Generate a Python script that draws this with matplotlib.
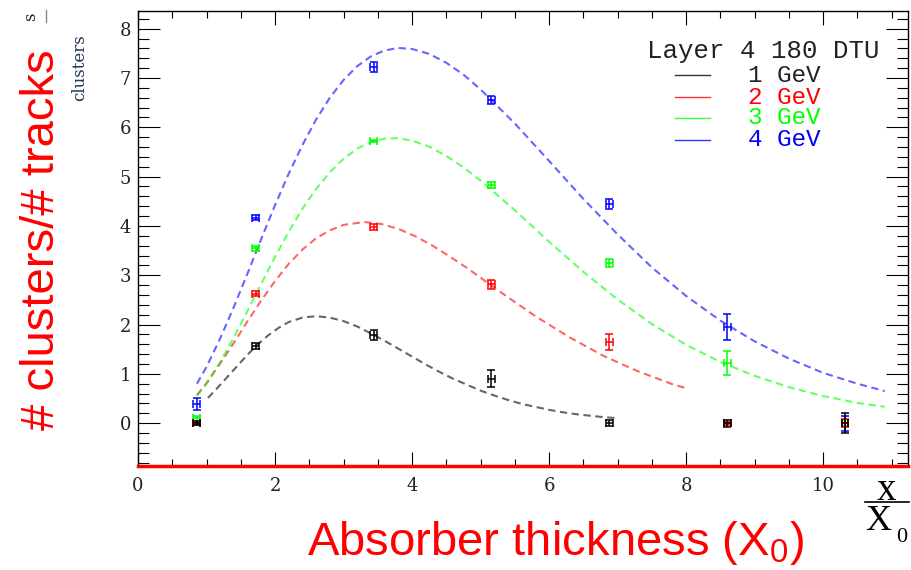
import matplotlib
matplotlib.use("Agg")
import matplotlib.pyplot as plt
from matplotlib.lines import Line2D

# measured points (absorber thickness in X0)
thickness = [0.86, 1.72, 3.44, 5.16, 6.88, 8.60, 10.32]
thickness_err = [0.05, 0.05, 0.05, 0.05, 0.05, 0.05, 0.05]

energies = ["1 GeV", "2 GeV", "3 GeV", "4 GeV"]
colors = ["#000000", "#ff0000", "#00ff00", "#0000ff"]

ratio_1gev = [0.0, 1.57, 1.78, 0.90, 0.0, 0.0, 0.0]
ratio_2gev = [0.0, 2.62, 3.98, 2.82, 1.65, 0.0, 0.0]
ratio_3gev = [0.10, 3.55, 5.72, 4.83, 3.25, 1.22, 0.0]
ratio_4gev = [0.38, 4.17, 7.22, 6.55, 4.45, 1.95, 0.0]

err_1gev = [0.04, 0.06, 0.10, 0.17, 0.06, 0.07, 0.20]
err_2gev = [0.03, 0.05, 0.06, 0.09, 0.16, 0.03, 0.08]
err_3gev = [0.05, 0.05, 0.02, 0.07, 0.08, 0.25, 0.06]
err_4gev = [0.12, 0.05, 0.10, 0.08, 0.10, 0.26, 0.15]

# fitted shower curves
fit_x_1gev = [1.02, 1.15, 1.3, 1.45, 1.6, 1.75, 1.9, 2.05, 2.2, 2.4, 2.6, 2.8, 3.0, 3.2, 3.4, 3.6, 3.8,
              4.0, 4.2, 4.4, 4.6, 4.8, 5.0, 5.2, 5.4, 5.6, 5.8, 6.0, 6.2, 6.4, 6.6, 6.8, 7.0]
fit_y_1gev = [0.51, 0.70, 0.93, 1.16, 1.39, 1.60, 1.78, 1.93, 2.05, 2.14, 2.17, 2.14, 2.07, 1.96, 1.82, 1.67, 1.51,
              1.35, 1.19, 1.04, 0.90, 0.78, 0.66, 0.56, 0.47, 0.39, 0.33, 0.27, 0.22, 0.18, 0.15, 0.12, 0.10]

fit_x_2gev = [0.86, 1.0, 1.2, 1.4, 1.6, 1.8, 2.0, 2.2, 2.4, 2.6, 2.8, 3.0, 3.3, 3.55, 3.8, 4.05, 4.3,
              4.55, 4.8, 5.3, 5.8, 6.3, 6.8, 7.3, 7.8, 8.0]
fit_y_2gev = [0.57, 0.81, 1.21, 1.63, 2.07, 2.49, 2.88, 3.23, 3.52, 3.75, 3.91, 4.02, 4.08, 4.04, 3.94, 3.79, 3.60,
              3.38, 3.15, 2.65, 2.17, 1.74, 1.36, 1.05, 0.79, 0.71]

fit_x_3gev = [0.86, 1.0, 1.2, 1.4, 1.6, 1.8, 2.0, 2.2, 2.4, 2.6, 2.8, 3.0, 3.2, 3.4, 3.6, 3.8, 4.0,
              4.25, 4.5, 4.75, 5.0, 5.5, 6.0, 6.5, 7.0, 7.5, 8.0, 8.5, 9.0, 9.5, 10.0, 10.5, 10.9]
fit_y_3gev = [0.55, 0.80, 1.24, 1.74, 2.28, 2.83, 3.37, 3.88, 4.35, 4.75, 5.09, 5.36, 5.57, 5.70, 5.77, 5.78, 5.73,
              5.61, 5.42, 5.19, 4.92, 4.32, 3.68, 3.07, 2.51, 2.01, 1.59, 1.24, 0.96, 0.73, 0.55, 0.41, 0.33]

fit_x_4gev = [0.86, 1.0, 1.2, 1.4, 1.6, 1.8, 2.0, 2.2, 2.4, 2.6, 2.8, 3.0, 3.2, 3.4, 3.6, 3.8, 4.0,
              4.25, 4.5, 4.75, 5.0, 5.5, 6.0, 6.5, 7.0, 7.5, 8.0, 8.5, 9.0, 9.5, 10.0, 10.5, 10.9]
fit_y_4gev = [0.80, 1.14, 1.72, 2.36, 3.04, 3.74, 4.42, 5.06, 5.64, 6.16, 6.60, 6.96, 7.24, 7.44, 7.56, 7.61, 7.59,
              7.49, 7.31, 7.07, 6.77, 6.08, 5.32, 4.55, 3.83, 3.16, 2.58, 2.08, 1.66, 1.31, 1.02, 0.80, 0.65]

ratios = [ratio_1gev, ratio_2gev, ratio_3gev, ratio_4gev]
errors = [err_1gev, err_2gev, err_3gev, err_4gev]
fits_x = [fit_x_1gev, fit_x_2gev, fit_x_3gev, fit_x_4gev]
fits_y = [fit_y_1gev, fit_y_2gev, fit_y_3gev, fit_y_4gev]

W, H = 912, 570


def fx(px):
    return px / W


def fy(py):
    return 1 - py / H


fig = plt.figure(figsize=(W / 100, H / 100), dpi=100)
ax = fig.add_axes([fx(138), fy(466), (908 - 138) / W, (466 - 11) / H])

for i in range(4):
    ax.plot(fits_x[i], fits_y[i], color=colors[i], alpha=0.6, lw=1.5,
            linestyle=(0, (3.5, 2.2)), zorder=2)
# black drawn last, as in the original
for i in [3, 2, 1, 0]:
    ax.errorbar(thickness, ratios[i], yerr=errors[i], xerr=thickness_err,
                fmt="none", ecolor=colors[i], elinewidth=1.1, capsize=2.6,
                capthick=1.1, zorder=3)

ax.set_xlim(0, 11.24)
ax.set_ylim(-0.87, 8.36)
ax.set_xticks([0, 2, 4, 6, 8, 10])
ax.set_xticks([x * 0.5 for x in range(23)], minor=True)
ax.set_yticks(range(9))
ax.set_yticks([y * 0.2 - 0.8 for y in range(46)], minor=True)
ax.tick_params(which="both", direction="in", top=True, right=True, width=0.8)
ax.tick_params(axis="x", which="major", length=10, pad=8)
ax.tick_params(axis="x", which="minor", length=5)
ax.tick_params(axis="y", which="major", length=16, pad=5)
ax.tick_params(axis="y", which="minor", length=8)
for lab in ax.get_xticklabels() + ax.get_yticklabels():
    lab.set_fontfamily("DejaVu Serif")
    lab.set_fontsize(13)
    lab.set_color("#222222")
for s in ["left", "top", "right"]:
    ax.spines[s].set_linewidth(1.0)
ax.spines["bottom"].set_color("#ff0000")
ax.spines["bottom"].set_linewidth(2.5)

# legend
fig.text(fx(647), fy(51), "Layer 4 180 DTU", family="Liberation Mono", fontsize=18.5,
         va="center", ha="left", color="#222222")
legend_y = [75, 97, 118, 140]
for i in range(4):
    fig.add_artist(Line2D([fx(675), fx(710)], [fy(legend_y[i]), fy(legend_y[i])],
                          color=colors[i], lw=1.0, alpha=0.8))
    fig.text(fx(748), fy(legend_y[i]), energies[i], family="Liberation Mono", fontsize=17.5,
             va="center", ha="left", color=colors[i] if i else "#222222")

# axis titles
plt.rcParams["mathtext.default"] = "regular"
fig.text(fx(42), fy(240), "# clusters/# tracks", family="Liberation Sans", fontsize=34,
         color="#ff0000", rotation=90, ha="center", va="center")
fig.text(fx(556), fy(543), "Absorber thickness (X$_0$)", family="Liberation Sans", fontsize=34,
         color="#ff0000", ha="center", va="center")

# leftover ROOT titles
fig.text(fx(80), fy(68), "clusters", family="DejaVu Serif", fontsize=12, color="#223355",
         rotation=90, ha="center", va="center")
fig.text(fx(31), fy(17), "s", family="DejaVu Serif", fontsize=12, color="#222222",
         rotation=90, ha="center", va="center")
fig.add_artist(Line2D([fx(46), fx(46)], [fy(10), fy(22)], color="#888888", lw=1))

fig.text(fx(886), fy(490), "x", family="Liberation Serif", fontsize=28, ha="center", va="center")
fig.add_artist(Line2D([fx(865), fx(909)], [fy(502), fy(502)], color="black", lw=1.2))
fig.text(fx(878), fy(522), "X", family="Liberation Serif", fontsize=26, ha="center", va="center")
fig.text(fx(902), fy(537), "0", family="Liberation Serif", fontsize=16, ha="center", va="center")

fig.savefig("out.png", dpi=100)
